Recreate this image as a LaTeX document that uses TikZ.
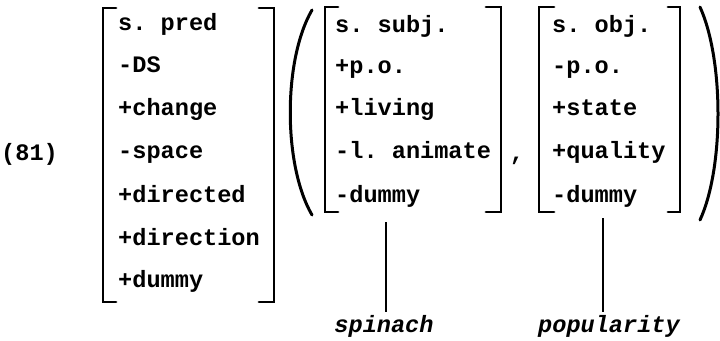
\documentclass[tikz,border=0pt]{standalone}
\usepackage{fontspec}
\setmonofont{Liberation Mono}
\begin{document}
\begin{tikzpicture}[x=1pt,y=-1pt,
  feat/.style={anchor=base west, inner sep=0pt, font=\ttfamily\bfseries\fontsize{23.6}{28}\selectfont},
  lab/.style={anchor=base, inner sep=0pt, font=\ttfamily\bfseries\itshape\fontsize{23.6}{28}\selectfont},
  brk/.style={line width=2.8pt, line cap=round, line join=miter},
  par/.style={line width=3pt, line cap=round},
  stem/.style={line width=2pt}]
\useasboundingbox (0,0) rectangle (720,340);
% example number
\node[feat] (num) at (1,160) {(81)};
% predicate matrix
\node[feat] (a1) at (118,30) {s. pred};
\node[feat] (a2) at (118,72.5) {-DS};
\node[feat] (a3) at (118,115) {+change};
\node[feat] (a4) at (118,158) {-space};
\node[feat] (a5) at (118,202) {+directed};
\node[feat] (a6) at (118,245) {+direction};
\node[feat] (a7) at (118,287) {+dummy};
\draw[brk] (116,8) -- (103,8) -- (103,302) -- (116,302);
\draw[brk] (259,8) -- (274,8) -- (274,302) -- (259,302);
% big parentheses
\draw[par] (312,10) .. controls (283,60) and (283,165) .. (312,215);
\draw[par] (700,7) .. controls (724,60) and (724,168) .. (700,220);
% subject matrix
\node[feat] (b1) at (335,32) {s. subj.};
\node[feat] (b2) at (335,73) {+p.o.};
\node[feat] (b3) at (335,115) {+living};
\node[feat] (b4) at (335,158) {-l. animate};
\node[feat] (b5) at (335,202) {-dummy};
\draw[brk] (338,7) -- (325,7) -- (325,212) -- (338,212);
\draw[brk] (486,7) -- (501,7) -- (501,212) -- (486,212);
\node[feat, anchor=base] (comma) at (517,160) {,};
% object matrix
\node[feat] (c1) at (552,32) {s. obj.};
\node[feat] (c2) at (552,73) {-p.o.};
\node[feat] (c3) at (552,115) {+state};
\node[feat] (c4) at (552,158) {+quality};
\node[feat] (c5) at (552,202) {-dummy};
\draw[brk] (554,7) -- (539,7) -- (539,212) -- (554,212);
\draw[brk] (668,7) -- (680,7) -- (680,212) -- (668,212);
% lexical items
\node[lab] (sp) at (384,332) {spinach};
\node[lab] (po) at (609,332) {popularity};
\coordinate (t1) at (386,222);
\coordinate (t2) at (603,218);
\draw[stem] (t1) -- (t1 |- 0,312);
\draw[stem] (t2) -- (t2 |- 0,312);
\end{tikzpicture}
\end{document}
